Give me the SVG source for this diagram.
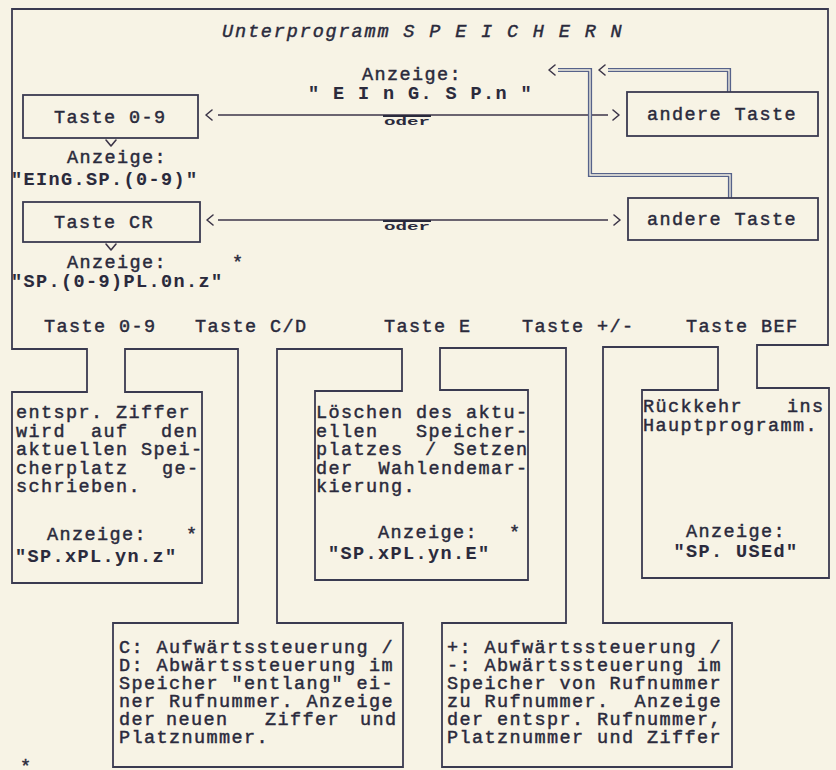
<svg xmlns="http://www.w3.org/2000/svg" width="836" height="770" viewBox="0 0 836 770">
<defs>
<style>
.t{font-family:"Liberation Mono","Courier New",monospace;font-size:18.5px;letter-spacing:1.4px;fill:#2a2a3c;stroke:#2a2a3c;stroke-width:0.45;white-space:pre}
.b{font-weight:bold;stroke-width:0.1}
.i{font-style:italic;letter-spacing:1.85px}
.m{text-anchor:middle}
.e{text-anchor:end}
.od{font-family:"Liberation Mono","Courier New",monospace;font-size:11px;font-weight:bold;fill:#2a2a3c}
.ln{fill:none;stroke:#3a3a50;stroke-width:1.8;stroke-linejoin:miter}
.box{fill:none;stroke:#3a3a50;stroke-width:1.8}
.cn{fill:none;stroke:#3c3548;stroke-width:1.5}
.ah{fill:none;stroke:#3c3548;stroke-width:1.6;stroke-linecap:round;stroke-linejoin:round}
.dbo{fill:none;stroke:#56628a;stroke-width:4.2}
.dbi{fill:none;stroke:#f7f3e5;stroke-width:1.3}
</style>
</defs>
<rect width="836" height="770" fill="#f7f3e5"/>

<g id="frame">
<path class="ln" d="M12,9 H828 V345 H757 V388 H829 V578 H642 V390 H718 V347 H603 V623 H732 V767 H442 V623 H566 V348 H440 V390 H528 V580 H315 V391 H402 V349 H277 V623 H403 V767 H113 V623 H238 V349 H125 V392 H202 V583 H12 V392 H87 V349 H12 Z"/>
<text class="t i" x="222" y="37">Unterprogramm S P E I C H E R N</text>
</g>

<g id="connectors">
<path class="cn" d="M218,115 H608"/>
<path class="ah" d="M212,110 L206,115 L212,120"/>
<path class="ah" d="M613,110 L619,115 L613,120"/>
<path class="cn" d="M218,220 H608"/>
<path class="ah" d="M213,215 L207,220 L213,225"/>
<path class="ah" d="M614,215 L620,220 L614,225"/>
<path class="dbo" d="M730,198 V175 H590 V70 H558"/>
<path class="dbi" d="M730,198 V175 H590 V70 H558"/>
<path class="dbo" d="M729,92 V70 H608"/>
<path class="dbi" d="M729,92 V70 H608"/>
<path class="ah" d="M555,65 L549,70 L555,75"/>
<path class="ah" d="M605,65 L599,70 L605,75"/>
<path class="ah" d="M106,140 L111,146 L116,140"/>
<path class="ah" d="M106,244 L111,250 L116,244"/>
<g id="oder1"><path d="M383,116 H431" stroke="#2a2a3c" stroke-width="2.2"/><text class="od" x="384" y="125" textLength="46" lengthAdjust="spacingAndGlyphs">oder</text></g>
<g id="oder2"><path d="M383,221 H431" stroke="#2a2a3c" stroke-width="2.2"/><text class="od" x="384" y="230" textLength="46" lengthAdjust="spacingAndGlyphs">oder</text></g>
</g>

<g id="anzeige-start">
<text class="t" x="362" y="80">Anzeige:</text>
<text class="t b" x="308" y="99">" E I n G. S P.n "</text>
</g>

<g id="taste09">
<rect class="box" x="23" y="95" width="175" height="43"/>
<text class="t" x="54" y="123">Taste 0-9</text>
</g>

<g id="andere1">
<rect class="box" x="627" y="92" width="191" height="44"/>
<text class="t" x="647" y="120">andere Taste</text>
</g>

<g id="anzeige-eing">
<text class="t" x="67" y="163">Anzeige:</text>
<text class="t b" x="11" y="185">"EInG.SP.(0-9)"</text>
</g>

<g id="tastecr">
<rect class="box" x="23" y="202" width="177" height="40"/>
<text class="t" x="54" y="228">Taste CR</text>
</g>

<g id="andere2">
<rect class="box" x="628" y="198" width="190" height="42"/>
<text class="t" x="647" y="225">andere Taste</text>
</g>

<g id="anzeige-sp">
<text class="t" x="67" y="268">Anzeige:</text>
<text class="t" x="232" y="268">*</text>
<text class="t b" x="11" y="287">"SP.(0-9)PL.0n.z"</text>
</g>

<g id="tasten">
<text class="t" x="44" y="332">Taste 0-9</text>
<text class="t" x="195" y="332">Taste C/D</text>
<text class="t" x="384" y="332">Taste E</text>
<text class="t" x="522" y="332">Taste +/-</text>
<text class="t" x="686" y="332">Taste BEF</text>
</g>

<g id="box-ziffer">
<text class="t" x="16" y="418">entspr. Ziffer</text>
<text class="t" x="16" y="436.5">wird</text>
<text class="t" x="91" y="436.5">auf</text>
<text class="t e" x="198.5" y="436.5">den</text>
<text class="t" x="16" y="455">aktuellen Spei-</text>
<text class="t" x="16" y="473.5">cherplatz</text>
<text class="t e" x="199.5" y="473.5">ge-</text>
<text class="t" x="16" y="492">schrieben.</text>
<text class="t" x="47" y="540">Anzeige:</text>
<text class="t" x="186" y="540">*</text>
<text class="t b" x="15" y="562">"SP.xPL.yn.z"</text>
</g>

<g id="box-loeschen">
<text class="t" x="316" y="418">Löschen des aktu-</text>
<text class="t" x="316" y="436.5">ellen</text>
<text class="t e" x="528.5" y="436.5">Speicher-</text>
<text class="t" x="316" y="455">platzes</text>
<text class="t" x="425" y="455">/</text>
<text class="t e" x="528.5" y="455">Setzen</text>
<text class="t" x="316" y="473.5">der</text>
<text class="t e" x="528.5" y="473.5">Wahlendemar-</text>
<text class="t" x="316" y="492">kierung.</text>
<text class="t" x="378" y="538">Anzeige:</text>
<text class="t" x="509" y="538">*</text>
<text class="t b" x="328" y="559">"SP.xPL.yn.E"</text>
</g>

<g id="box-rueckkehr">
<text class="t" x="643" y="412">Rückkehr</text>
<text class="t e" x="824.5" y="412">ins</text>
<text class="t" x="643" y="431">Hauptprogramm.</text>
<text class="t m" x="736" y="537">Anzeige:</text>
<text class="t b m" x="736" y="557">"SP. USEd"</text>
</g>

<g id="box-cd">
<text class="t" x="119" y="653">C: Aufwärtssteuerung /</text>
<text class="t" x="119" y="671">D: Abwärtssteuerung im</text>
<text class="t" x="119" y="689">Speicher "entlang" ei-</text>
<text class="t" x="119" y="707">ner Rufnummer. Anzeige</text>
<text class="t" x="119" y="725">der</text>
<text class="t" x="166" y="725">neuen</text>
<text class="t" x="265" y="725">Ziffer</text>
<text class="t e" x="397.5" y="725">und</text>
<text class="t" x="119" y="743">Platznummer.</text>
</g>

<g id="box-plusminus">
<text class="t" x="447" y="653">+: Aufwärtssteuerung /</text>
<text class="t" x="447" y="671">-: Abwärtssteuerung im</text>
<text class="t" x="447" y="689">Speicher von Rufnummer</text>
<text class="t" x="447" y="707">zu Rufnummer.  Anzeige</text>
<text class="t" x="447" y="725">der entspr. Rufnummer,</text>
<text class="t" x="447" y="743">Platznummer und Ziffer</text>
</g>

<g id="footnote">
<text class="t" x="20" y="772">*</text>
</g>
</svg>
